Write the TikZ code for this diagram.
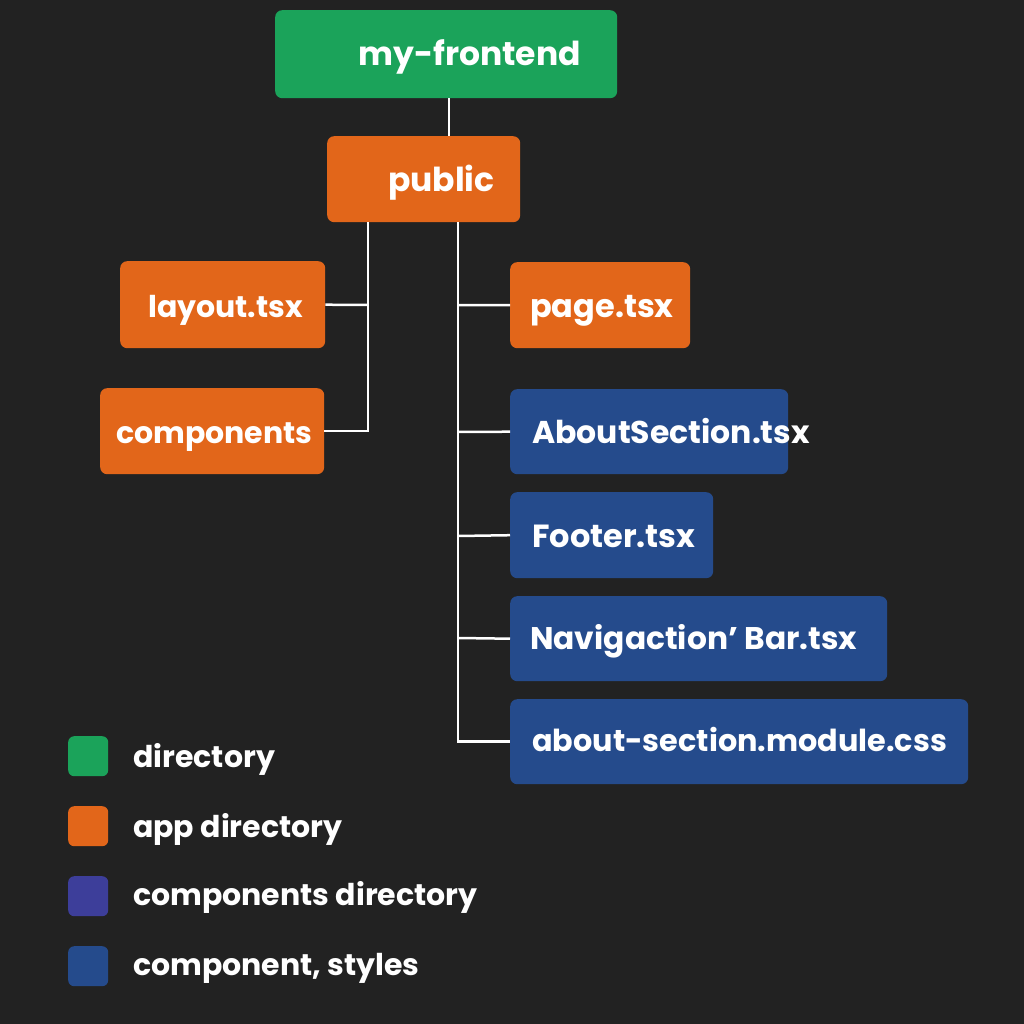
\documentclass[tikz,border=0pt]{standalone}
\usepackage{fontspec}
\setmainfont{Poppins}
\definecolor{bg}{HTML}{222222}
\definecolor{cgreen}{HTML}{1BA35A}
\definecolor{corange}{HTML}{E2661A}
\definecolor{cblue}{HTML}{254B8C}
\definecolor{cpurple}{HTML}{3D3E9A}
\begin{document}
\begin{tikzpicture}[x=1pt,y=-1pt,
  box/.style={draw=none,rounded corners=7pt,anchor=north west,inner sep=0pt},
  lbl/.style={anchor=base west,text=white,font=\fontsize{#1}{36}\selectfont\bfseries,inner sep=0pt},
  lbl/.default=30,
  leglbl/.style={anchor=base west,text=white,font=\fontsize{30}{36}\selectfont\bfseries,inner sep=0pt},
  sw/.style={rounded corners=6pt,anchor=north west,inner sep=0pt,minimum width=40pt,minimum height=40pt},
  conn/.style={draw=white,line width=2.5pt}]
\fill[bg] (0,0) rectangle (1024,1024);
\useasboundingbox (0,0) rectangle (1024,1024);
% boxes
\node[box,fill=cgreen,minimum width=342pt,minimum height=88pt] (top) at (275,10) {};
\node[box,fill=corange,minimum width=193pt,minimum height=86pt] (pub) at (327,136) {};
\node[box,fill=corange,minimum width=205pt,minimum height=87pt] (layout) at (120,261) {};
\node[box,fill=corange,minimum width=224pt,minimum height=86pt] (comp) at (100,388) {};
\node[box,fill=corange,minimum width=180pt,minimum height=86pt] (page) at (510,262) {};
\node[box,fill=cblue,minimum width=278pt,minimum height=85pt] (about) at (510,389) {};
\node[box,fill=cblue,minimum width=203pt,minimum height=86pt] (footer) at (510,492) {};
\node[box,fill=cblue,minimum width=377pt,minimum height=85pt] (nav) at (510,596) {};
\node[box,fill=cblue,minimum width=458pt,minimum height=85pt] (css) at (510,699) {};
% labels
\node[lbl=33] (ttop) at (358,66) {my-frontend};
\node[lbl=33] (tpub) at (388,192) {public};
\node[lbl=30] (tlayout) at (148,317) {layout.tsx};
\node[lbl=30] (tcomp) at (116,443) {components};
\node[lbl=32] (tpage) at (530,317) {page.tsx};
\node[lbl=31.5] (tabout) at (532,443) {AboutSection.tsx};
\node[lbl=32] (tfooter) at (532,547) {Footer.tsx};
\node[lbl=31.3] (tnav) at (530,649) {Navigaction’ Bar.tsx};
\node[lbl=30.3] (tcss) at (532,751) {about-section.module.css};
% connectors
\coordinate (lj) at (368,305);
\coordinate (r1) at (458,305);
\coordinate (r2) at (458,432);
\coordinate (r3) at (458,536);
\coordinate (r4) at (458,638);
\draw[conn] (top.south -| 449,0) -- (pub.north -| 449,0);
\draw[conn] (pub.south -| 368,0) |- (comp.east);
\draw[conn] (lj) -- (layout.east);
\draw[conn] (pub.south -| 458,0) |- (css.west);
\draw[conn] (r1) -- (page.west);
\draw[conn] (r2) -- (about.west);
\draw[conn] (r3) -- (footer.west);
\draw[conn] (r4) -- (nav.west);
% legend
\node[sw,fill=cgreen] (lg1) at (68,736) {};
\node[sw,fill=corange] (lg2) at (68,806) {};
\node[sw,fill=cpurple] (lg3) at (68,876) {};
\node[sw,fill=cblue] (lg4) at (68,946) {};
\node[leglbl] (lt1) at (133,767) {directory};
\node[leglbl] (lt2) at (133,837) {app directory};
\node[leglbl] (lt3) at (133,905) {components directory};
\node[leglbl] (lt4) at (133,975) {component, styles};
\end{tikzpicture}
\end{document}
